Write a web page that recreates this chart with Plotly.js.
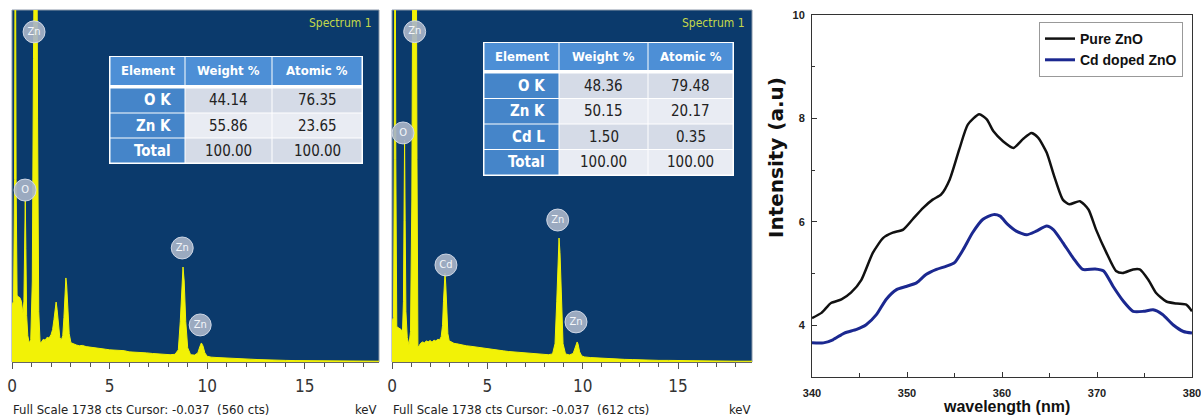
<!DOCTYPE html>
<html><head><meta charset="utf-8">
<script src="https://cdn.plot.ly/plotly-3.0.1.min.js"></script>
<style>html,body{margin:0;padding:0;background:#fff;} #chart{width:1201px;height:418px;}</style>
</head><body><div id="chart"></div>
<script>
// ---------- EDS spectrum 1 (pure ZnO) ----------
const eds1Energy = [
 0.00,0.08,0.13,0.17,0.21,0.26,0.32,0.40,0.48,0.56,
 0.61,0.65,0.68,0.71,0.75,0.81,0.88,0.96,1.04,1.10,
 1.15,1.20,1.26,1.31,1.37,1.44,1.52,1.60,1.70,1.80,
 1.90,2.00,2.08,2.15,2.21,2.26,2.31,2.37,2.45,2.53,
 2.60,2.66,2.71,2.76,2.80,2.86,2.93,3.02,3.15,3.30,
 3.45,3.60,3.80,4.00,4.20,4.40,4.60,4.80,5.00,5.25,
 5.50,5.75,6.00,6.30,6.60,6.90,7.20,7.50,7.80,8.10,
 8.35,8.52,8.62,8.70,8.76,8.82,8.90,9.00,9.15,9.35,
 9.52,9.62,9.70,9.78,9.88,10.0,10.2,10.5,10.8,11.1,
 11.4,11.8,12.2,12.6,13.0,13.5,14.0,14.5,15.0,15.5,
 16.0,16.5,17.0,17.5,18.0,18.8];
const eds1Counts = [
 280,300,900,2600,900,330,322,318,300,240,
 300,620,800,560,230,130,94,110,400,1500,
 2600,2700,2600,1200,250,94,100,112,108,122,
 118,135,160,210,270,296,260,180,120,109,
 130,220,350,415,380,250,140,95,88,84,
 80,82,76,74,70,69,66,63,60,58,
 55,56,50,49,46,45,42,40,37,36,
 38,60,200,400,469,400,200,70,36,34,
 45,75,94,80,45,28,24,22,20,18,
 17,15,14,12,10,9,8,7,7,6,
 6,5,5,4,4,4];
const eds1LabelE = [1.13, 0.67, 8.72, 9.64];
const eds1LabelC = [1630, 849, 563, 183];
const eds1LabelT = ['Zn', 'O', 'Zn', 'Zn'];

// ---------- EDS spectrum 2 (Cd doped ZnO) ----------
const eds2Energy = [
 0.00,0.08,0.12,0.16,0.20,0.25,0.32,0.40,0.48,0.55,
 0.60,0.63,0.66,0.69,0.73,0.80,0.89,0.97,1.04,1.09,
 1.14,1.20,1.26,1.31,1.36,1.42,1.50,1.60,1.70,1.80,
 1.90,2.00,2.10,2.20,2.30,2.40,2.50,2.58,2.65,2.70,
 2.74,2.78,2.82,2.87,2.93,3.00,3.10,3.25,3.40,3.55,
 3.70,3.90,4.10,4.30,4.50,4.70,4.90,5.10,5.35,5.60,
 5.85,6.10,6.40,6.70,7.00,7.30,7.60,7.90,8.20,8.42,
 8.55,8.64,8.71,8.76,8.81,8.88,8.97,9.10,9.30,9.50,
 9.60,9.66,9.71,9.76,9.84,9.95,10.1,10.4,10.7,11.0,
 11.4,11.8,12.2,12.6,13.0,13.5,14.0,14.5,15.0,15.5,
 16.0,16.5,17.0,17.5,18.0,18.9];
const eds2Counts = [
 200,220,1000,2600,1000,175,170,166,160,150,
 300,700,1096,700,250,120,84,150,800,2000,
 2700,2750,2600,1000,74,80,92,99,95,104,
 100,106,98,108,104,112,110,125,180,300,
 400,439,380,240,140,105,98,92,90,86,
 84,80,78,75,72,70,67,64,60,58,
 55,52,50,47,45,43,40,38,36,40,
 90,300,540,612,540,300,90,40,35,42,
 70,92,99,88,50,30,25,22,20,18,
 16,15,13,12,10,9,8,8,7,6,
 6,5,5,4,4,4];
const eds2LabelE = [1.19, 0.58, 2.83, 8.69, 9.65];
const eds2LabelC = [1631, 1131, 479, 701, 198];
const eds2LabelT = ['Zn', 'O', 'Cd', 'Zn', 'Zn'];

// ---------- Composition tables ----------
const tableHeader = ['Element', 'Weight %', 'Atomic %'];
const table1Element = ['O K', 'Zn K', 'Total'];
const table1Weight = ['44.14', '55.86', '100.00'];
const table1Atomic = ['76.35', '23.65', '100.00'];
const table2Element = ['O K', 'Zn K', 'Cd L', 'Total'];
const table2Weight = ['48.36', '50.15', '1.50', '100.00'];
const table2Atomic = ['79.48', '20.17', '0.35', '100.00'];

// ---------- PL spectra ----------
const pureWl = [340,341,342,343.1,344.1,345.2,346.4,347.5,348.5,349.6,350.6,351.7,352.7,353.6,354.5,
 355.5,356.4,357.6,358.4,359.1,360.1,361.2,362.2,363.1,363.8,364.7,365.5,366.4,367.1,368.2,
 369.1,369.9,371,372,372.7,373.8,374.5,375.4,376.2,377.3,378.4,379.4,380];
const pureI = [4.14,4.24,4.43,4.5,4.63,4.88,5.4,5.69,5.79,5.85,6.05,6.27,6.43,6.53,6.82,
 7.4,7.88,8.08,7.98,7.75,7.56,7.43,7.6,7.72,7.63,7.34,6.88,6.43,6.34,6.4,
 6.24,5.85,5.4,5.05,5.01,5.08,5.08,4.88,4.63,4.46,4.42,4.4,4.27];
const cdWl = [340,341.2,342.2,343.4,344.7,345.7,346.8,347.8,348.9,349.9,351,352,353.1,354.1,355,
 355.9,356.9,358,359.1,359.8,360.6,361.5,362.6,363.6,364.7,365.4,366.4,367.5,368.5,369.8,
 370.7,371.7,372.8,373.8,374.9,375.9,376.9,378,379.1,380];
const cdI = [3.66,3.66,3.72,3.85,3.92,4.01,4.21,4.5,4.69,4.75,4.82,4.98,5.08,5.14,5.21,
 5.46,5.79,6.05,6.14,6.11,5.95,5.82,5.75,5.82,5.92,5.85,5.6,5.3,5.08,5.09,
 5.05,4.75,4.46,4.27,4.27,4.3,4.21,4.01,3.88,3.85];
const plXTicks = [340, 350, 360, 370, 380];
const plYTicks = [4, 6, 8, 10];

// ---------- layout helpers ----------
const W = 1201, H = 418;
const px = v => v / W;
const py = v => 1 - v / H;
const NARROW = '"Liberation Sans Narrow", "DejaVu Sans Condensed", "Arial Narrow", sans-serif';
const SANS = '"Liberation Sans", Arial, sans-serif';
const YELLOW = '#f2f206';
const NAVY = '#0b3a6c';
const HDR = '#4d8fd6', ELEM = '#4585c9', ROWA = '#d5dbe7', ROWB = '#e9ecf3';

function edsTrace(x, y, xa, ya) {
  return {type: 'scatter', mode: 'lines', x: x, y: y, xaxis: xa, yaxis: ya,
    fill: 'tozeroy', fillcolor: YELLOW, line: {color: YELLOW, width: 1},
    showlegend: false, hoverinfo: 'skip'};
}
function labelTrace(x, y, t, xa, ya) {
  return {type: 'scatter', mode: 'markers+text', x: x, y: y, text: t, xaxis: xa, yaxis: ya,
    marker: {size: 22, color: 'rgba(168,180,200,0.92)', line: {color: 'rgba(215,222,235,0.9)', width: 1}},
    textposition: 'middle center', textfont: {family: NARROW, size: 11, color: '#f4f6fa'},
    cliponaxis: false, showlegend: false, hoverinfo: 'skip'};
}

// Build a table (cells as shapes, text as annotations) from the data arrays
function buildTable(cols, xEdges, yTop, hdrBottom, bodyTop, yBottom, shapes, annos) {
  const n = cols[0].length;
  const rowH = (yBottom - bodyTop) / n;
  shapes.push({type: 'rect', xref: 'paper', yref: 'paper', x0: px(xEdges[0] - 1), x1: px(xEdges[3] + 1),
    y0: py(yBottom + 1), y1: py(yTop - 1), fillcolor: '#ffffff', line: {width: 0}});
  for (let c = 0; c < 3; c++) {
    shapes.push({type: 'rect', xref: 'paper', yref: 'paper', x0: px(xEdges[c] + 0.5), x1: px(xEdges[c + 1] - 0.5),
      y0: py(hdrBottom), y1: py(yTop), fillcolor: HDR, line: {width: 0}});
    annos.push({xref: 'paper', yref: 'paper', x: px((xEdges[c] + xEdges[c + 1]) / 2), y: py((yTop + hdrBottom) / 2),
      xanchor: 'center', yanchor: 'middle', showarrow: false, text: '<b>' + tableHeader[c] + '</b>',
      font: {family: NARROW, size: 13, color: '#ffffff'}});
    for (let r = 0; r < n; r++) {
      const t = bodyTop + r * rowH, b = t + rowH;
      const fill = c === 0 ? ELEM : (r % 2 === 0 ? ROWA : ROWB);
      shapes.push({type: 'rect', xref: 'paper', yref: 'paper', x0: px(xEdges[c] + 0.5), x1: px(xEdges[c + 1] - 0.5),
        y0: py(b - 0.5), y1: py(t + 0.5), fillcolor: fill, line: {width: 0}});
      annos.push({xref: 'paper', yref: 'paper',
        x: c === 0 ? px(xEdges[1] - 12) : px((xEdges[c] + xEdges[c + 1]) / 2), y: py((t + b) / 2),
        xanchor: c === 0 ? 'right' : 'center', yanchor: 'middle', showarrow: false,
        text: c === 0 ? '<b>' + cols[0][r] + '</b>' : cols[c][r],
        font: {family: NARROW, size: 15, color: c === 0 ? '#ffffff' : '#222222'}});
    }
  }
}

const data = [
  edsTrace(eds1Energy, eds1Counts, 'x', 'y'),
  labelTrace(eds1LabelE, eds1LabelC, eds1LabelT, 'x', 'y'),
  edsTrace(eds2Energy, eds2Counts, 'x2', 'y2'),
  labelTrace(eds2LabelE, eds2LabelC, eds2LabelT, 'x2', 'y2'),
  {type: 'scatter', mode: 'lines', name: 'Pure ZnO', x: pureWl, y: pureI, xaxis: 'x3', yaxis: 'y3',
   line: {color: '#111111', width: 2.5, shape: 'spline', smoothing: 0.6}},
  {type: 'scatter', mode: 'lines', name: 'Cd doped ZnO', x: cdWl, y: cdI, xaxis: 'x3', yaxis: 'y3',
   line: {color: '#1b2890', width: 3, shape: 'spline', smoothing: 0.6}}
];

function edsX(d0, d1, maxE) {
  return {domain: [px(d0), px(d1)], range: [0, maxE], showgrid: false, zeroline: false,
    showline: true, linecolor: '#666', linewidth: 1, ticks: 'outside', ticklen: 6, tickcolor: '#555',
    dtick: 5, tick0: 0, minor: {dtick: 1, ticks: 'outside', ticklen: 4, tickcolor: '#555'},
    tickfont: {family: NARROW, size: 17, color: '#333'}, ticklabelstandoff: 3, fixedrange: true};
}
function edsY(anchor) {
  return {domain: [py(362), py(10)], range: [0, 1738], visible: false, anchor: anchor, fixedrange: true};
}

const shapes = [
  {type: 'rect', xref: 'x domain', yref: 'y domain', x0: 0, x1: 1, y0: 0, y1: 1, layer: 'below',
   fillcolor: NAVY, line: {color: '#8a97a8', width: 1}},
  {type: 'rect', xref: 'x2 domain', yref: 'y2 domain', x0: 0, x1: 1, y0: 0, y1: 1, layer: 'below',
   fillcolor: NAVY, line: {color: '#8a97a8', width: 1}}
];
const annotations = [
  {xref: 'paper', yref: 'paper', x: px(374), y: py(23), xanchor: 'right', yanchor: 'middle', showarrow: false,
   text: 'Spectrum 1', font: {family: NARROW, size: 12, color: '#c4d84a'}},
  {xref: 'paper', yref: 'paper', x: px(747), y: py(23), xanchor: 'right', yanchor: 'middle', showarrow: false,
   text: 'Spectrum 1', font: {family: NARROW, size: 12, color: '#c4d84a'}},
  {xref: 'paper', yref: 'paper', x: px(11), y: py(409), xanchor: 'left', yanchor: 'middle', showarrow: false,
   text: 'Full Scale 1738 cts Cursor: -0.037  (560 cts)', font: {family: NARROW, size: 13, color: '#222'}},
  {xref: 'paper', yref: 'paper', x: px(379), y: py(409), xanchor: 'right', yanchor: 'middle', showarrow: false,
   text: 'keV', font: {family: NARROW, size: 13, color: '#222'}},
  {xref: 'paper', yref: 'paper', x: px(391), y: py(409), xanchor: 'left', yanchor: 'middle', showarrow: false,
   text: 'Full Scale 1738 cts Cursor: -0.037  (612 cts)', font: {family: NARROW, size: 13, color: '#222'}},
  {xref: 'paper', yref: 'paper', x: px(753), y: py(409), xanchor: 'right', yanchor: 'middle', showarrow: false,
   text: 'keV', font: {family: NARROW, size: 13, color: '#222'}},
  {xref: 'paper', yref: 'paper', x: px(1006), y: py(406), xanchor: 'center', yanchor: 'middle', showarrow: false,
   text: 'wavelength (nm)', font: {family: SANS, size: 16, color: '#111', weight: 'bold'}},
  {xref: 'paper', yref: 'paper', x: px(776), y: py(158), xanchor: 'center', yanchor: 'middle', showarrow: false,
   textangle: -90, text: 'Intensity (a.u)',
   font: {family: '"DejaVu Sans", sans-serif', size: 20, color: '#111', weight: 'bold'}}
];
buildTable([table1Element, table1Weight, table1Atomic], [110, 185, 272, 362], 57, 85, 88, 163, shapes, annotations);
buildTable([table2Element, table2Weight, table2Atomic], [484, 559, 648, 733], 43, 70, 73, 175, shapes, annotations);

const layout = {
  width: W, height: H, margin: {l: 0, r: 0, t: 0, b: 0},
  paper_bgcolor: '#ffffff', plot_bgcolor: 'rgba(0,0,0,0)',
  xaxis: Object.assign(edsX(12, 379, 18.8), {anchor: 'y'}),
  yaxis: edsY('x'),
  xaxis2: Object.assign(edsX(392, 752, 18.88), {anchor: 'y2'}),
  yaxis2: edsY('x2'),
  xaxis3: {domain: [px(812), px(1192)], range: [340, 380], anchor: 'y3', showgrid: false, zeroline: false,
    showline: true, mirror: true, linecolor: '#333', linewidth: 1,
    tickvals: plXTicks, ticks: 'inside', ticklen: 5, tickcolor: '#333', ticklabeloverflow: 'allow',
    minor: {dtick: 5, ticks: 'inside', ticklen: 4, tickcolor: '#333'},
    tickfont: {family: SANS, size: 11, color: '#222', weight: 'bold'}, ticklabelstandoff: 6, fixedrange: true},
  yaxis3: {domain: [py(377), py(15)], range: [3, 10], anchor: 'x3', showgrid: false, zeroline: false,
    showline: true, mirror: true, linecolor: '#333', linewidth: 1,
    tickvals: plYTicks, ticks: 'inside', ticklen: 5, tickcolor: '#333', ticklabeloverflow: 'allow',
    minor: {dtick: 1, ticks: 'inside', ticklen: 3, tickcolor: '#333'},
    tickfont: {family: SANS, size: 11, color: '#222', weight: 'bold'}, ticklabelstandoff: 4, fixedrange: true},
  legend: {x: px(1039), y: py(22), xanchor: 'left', yanchor: 'top', bgcolor: '#ffffff',
    bordercolor: '#999999', borderwidth: 1, font: {family: SANS, size: 14, color: '#111', weight: 'bold'},
    tracegroupgap: 0},
  shapes: shapes,
  annotations: annotations
};

Plotly.newPlot('chart', data, layout, {displayModeBar: false, staticPlot: true});
</script></body></html>
